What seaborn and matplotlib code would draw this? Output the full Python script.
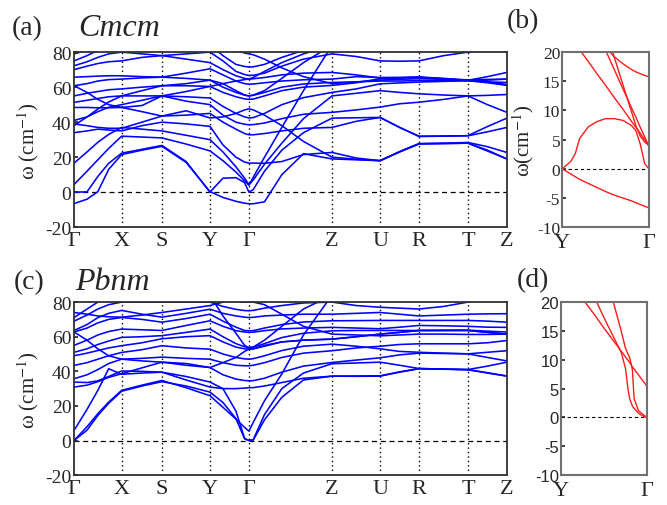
import matplotlib
matplotlib.use("Agg")
import matplotlib.pyplot as plt
import pandas as pd
import seaborn as sns

# ---------------- k-path (shared by panels a and c) ----------------
k_path = [0.00, 0.30, 0.55, 0.80, 1.10, 1.57, 2.03, 2.59, 3.14, 3.44, 3.74, 3.94, 4.04,
          4.14, 4.40, 4.80, 5.30, 5.96, 6.52, 7.07, 7.52, 7.97, 8.54, 9.10, 9.55, 10.00]
hs_pos = [0.00, 1.10, 2.03, 3.14, 4.04, 5.96, 7.07, 7.97, 9.10, 10.00]
hs_labels = ["Γ", "X", "S", "Y", "Γ", "Z", "U", "R", "T", "Z"]

# ---------------- Cmcm bands (cm^-1) ----------------
cm_a1 = [-6.5, -4.0, 0.3, 13.0, 21.5, 24.0, 26.2, 17.0, 0.3, -3.0, -5.2, -6.3, -6.6,
         -6.6, -5.5, 10.0, 22.0, 19.0, 18.5, 18.0, 23.0, 27.6, 27.8, 28.0, 24.0, 19.0]
cm_a2 = [0.0, 0.2, 9.0, 16.5, 22.3, 24.5, 26.7, 17.5, 0.0, 8.0, 8.3, 5.5, 0.0,
         1.5, 12.0, 24.0, 34.0, 42.3, 42.5, 42.7, 37.0, 31.8, 32.0, 32.3, 37.5, 42.3]
cm_a3 = [4.4, 12.0, 18.5, 25.0, 32.0, 31.5, 31.0, 27.5, 23.6, 18.0, 11.5, 6.5, 4.0,
         8.5, 20.0, 37.0, 58.0, 84.0, 84.0, 84.0, 84.0, 84.0, 84.0, 84.0, 84.0, 84.0]
cm_a4 = [16.6, 23.0, 28.5, 33.0, 37.0, 36.0, 35.0, 32.5, 30.0, 23.0, 14.5, 8.0, 4.3,
         7.0, 16.0, 28.0, 42.0, 55.0, 56.5, 58.0, 57.0, 56.2, 55.5, 55.0, 55.3, 55.8]
cm_a5 = [34.0, 35.0, 36.0, 35.5, 35.0, 38.0, 40.0, 39.0, 37.6, 27.0, 20.0, 17.2, 16.6,
         16.6, 16.5, 17.5, 21.5, 22.7, 19.5, 18.0, 23.2, 27.8, 28.0, 28.4, 26.0, 22.7]
cm_d1 = [48.4, 48.4, 48.2, 48.2, 48.4, 46.0, 43.5, 46.5, 42.4, 43.0, 45.0, 47.0, 47.6,
         47.0, 44.0, 38.0, 29.0, 20.0, 18.8, 18.0, 23.0, 27.6, 27.8, 28.0, 23.5, 19.0]
cm_u1 = [39.0, 38.0, 37.0, 36.5, 36.5, 40.0, 43.5, 44.0, 45.0, 40.0, 36.0, 33.5, 32.8,
         32.8, 33.5, 35.0, 36.5, 37.0, 40.5, 42.7, 37.0, 32.0, 32.1, 32.2, 34.5, 37.0]
cm_u2 = [41.0, 43.0, 46.0, 48.5, 50.0, 52.5, 55.0, 52.0, 50.0, 44.0, 40.0, 38.8, 38.5,
         38.6, 39.5, 42.0, 44.5, 45.6, 47.0, 48.6, 50.5, 51.4, 53.0, 55.0, 50.0, 45.6]
cm_u3 = [51.3, 52.5, 53.5, 54.5, 55.0, 55.0, 55.0, 54.5, 53.8, 49.0, 45.0, 43.0, 42.4,
         42.6, 45.0, 50.0, 54.0, 57.0, 59.0, 61.9, 62.4, 62.9, 63.3, 63.7, 62.5, 61.0]
cm_u4 = [55.0, 56.5, 57.5, 58.5, 59.0, 60.0, 60.8, 60.8, 60.4, 57.0, 54.5, 53.3, 53.0,
         53.2, 55.0, 58.0, 60.0, 61.0, 62.5, 64.8, 65.3, 65.7, 64.7, 63.7, 64.0, 64.6]
cm_u5 = [60.8, 62.0, 63.5, 64.3, 64.6, 65.3, 65.7, 65.0, 64.0, 60.0, 57.0, 55.4, 55.0,
         55.3, 57.0, 60.0, 61.8, 62.7, 63.0, 63.5, 63.5, 63.7, 63.7, 63.7, 63.0, 62.7]
cm_u6 = [65.7, 66.0, 66.3, 66.5, 66.5, 66.0, 65.7, 68.0, 70.5, 67.0, 63.5, 62.0, 61.7,
         61.8, 62.5, 63.5, 64.2, 64.6, 66.0, 65.5, 65.6, 65.8, 65.0, 64.0, 63.0, 61.5]
cm_u7 = [70.0, 72.0, 73.5, 74.5, 75.0, 77.0, 78.0, 76.0, 74.0, 70.0, 66.5, 65.0, 64.6,
         64.8, 65.5, 67.0, 68.0, 68.4, 67.0, 65.2, 65.3, 65.5, 64.8, 63.9, 66.0, 68.4]
cm_u8 = [72.2, 74.5, 77.0, 79.0, 80.0, 79.0, 78.0, 79.0, 80.0, 75.0, 69.0, 67.2, 66.7,
         66.8, 68.0, 72.0, 76.0, 79.0, 77.5, 75.0, 74.8, 75.0, 78.0, 80.0, 81.0, 82.0]
cm_u9 = [75.0, 78.0, 81.0, 83.0, 84.0, 84.0, 84.0, 84.0, 84.0, 78.0, 73.0, 71.8, 71.5,
         71.6, 73.0, 77.0, 81.0, 84.0, 84.0, 84.0, 84.0, 84.0, 84.0, 84.0, 84.0, 84.0]
cm_u10 = [79.0, 81.0, 83.0, 84.0, 84.0, 84.0, 84.0, 84.0, 84.0, 84.0, 81.0, 79.5, 79.0,
          78.5, 76.0, 71.0, 66.0, 62.0, 63.0, 64.0, 64.5, 64.8, 64.5, 64.2, 64.4, 64.6]
cm_c1 = [60.8, 57.0, 53.0, 50.0, 48.4, 49.5, 55.0, 57.5, 60.4, 62.0, 63.5, 64.3, 64.6,
         65.5, 69.0, 74.0, 79.0, 84.0, 84.0, 84.0, 84.0, 84.0, 84.0, 84.0, 84.0, 84.0]
cm_c5 = [38.0, 43.0, 47.5, 51.5, 55.0, 58.0, 60.8, 62.0, 64.0, 62.0, 58.0, 55.5, 55.0,
         55.5, 58.0, 65.0, 74.0, 84.0, 84.0, 84.0, 84.0, 84.0, 84.0, 84.0, 84.0, 84.0]
cmcm_bands = [cm_a1, cm_a2, cm_a3, cm_a4, cm_a5, cm_d1, cm_u1, cm_u2, cm_u3, cm_u4,
              cm_u5, cm_u6, cm_u7, cm_u8, cm_u9, cm_u10, cm_c1, cm_c5]

# ---------------- Pbnm bands (cm^-1) ----------------
pb_c1 = [0.0, 8.0, 15.5, 22.2, 29.0, 32.0, 34.7, 30.5, 25.9, 19.2, 12.4, 7.6, 5.4,
         10.5, 23.0, 38.5, 61.0, 84.0, 84.0, 84.0, 84.0, 84.0, 84.0, 84.0, 84.0, 84.0]
pb_c2 = [0.0, 6.0, 14.5, 21.5, 28.5, 31.5, 34.0, 31.5, 28.0, 22.0, 12.7, 1.0, 0.0,
         0.5, 15.0, 30.0, 39.0, 44.4, 44.8, 45.3, 43.5, 41.6, 41.3, 41.0, 43.0, 45.3]
pb_c3 = [5.8, 18.0, 29.0, 41.5, 38.3, 39.0, 39.5, 37.0, 33.8, 30.0, 17.0, 1.2, 0.0,
         0.3, 12.0, 25.0, 35.0, 37.2, 37.1, 37.2, 39.5, 41.5, 41.2, 40.9, 39.0, 37.2]
pb_v0 = [30.9, 32.0, 34.0, 36.5, 38.6, 42.0, 45.3, 44.5, 42.2, 38.0, 35.5, 34.7, 34.5,
         34.6, 36.0, 39.5, 43.0, 45.1, 46.5, 47.8, 49.5, 50.5, 50.3, 50.1, 48.0, 46.0]
pb_v1 = [33.8, 33.5, 34.5, 37.0, 40.2, 40.0, 39.5, 35.0, 30.9, 30.0, 30.0, 30.3, 30.5,
         30.6, 31.5, 33.5, 36.0, 37.2, 37.3, 37.4, 39.7, 41.6, 41.3, 41.0, 39.2, 37.3]
pb_v2 = [35.7, 38.0, 41.0, 44.5, 47.0, 47.5, 48.2, 47.5, 47.0, 45.0, 43.5, 43.2, 43.2,
         43.5, 45.0, 48.0, 50.5, 51.9, 53.5, 54.5, 55.5, 55.9, 55.9, 55.9, 56.5, 57.8]
pb_v3 = [43.4, 45.0, 47.0, 49.0, 50.9, 52.5, 54.8, 53.5, 52.8, 50.0, 48.0, 47.2, 47.0,
         47.3, 49.0, 52.0, 54.5, 55.7, 54.5, 53.0, 51.5, 51.0, 50.5, 50.1, 51.0, 51.9]
pb_v4 = [49.0, 50.5, 52.0, 53.5, 54.8, 56.5, 58.8, 60.0, 60.6, 57.0, 54.0, 53.0, 52.8,
         53.0, 54.5, 57.0, 58.0, 58.6, 60.0, 61.5, 62.5, 63.6, 63.6, 63.6, 62.5, 61.5]
pb_v5 = [51.0, 53.0, 55.5, 57.5, 59.6, 60.0, 60.6, 62.5, 64.4, 60.0, 56.0, 54.2, 53.8,
         54.0, 56.0, 59.5, 62.0, 63.4, 63.6, 63.6, 63.6, 63.6, 63.7, 63.8, 63.2, 62.7]
pb_v6 = [55.0, 58.0, 61.0, 63.0, 64.4, 64.0, 63.6, 66.5, 69.2, 66.0, 63.5, 62.7, 62.5,
         62.6, 63.5, 64.5, 65.0, 65.4, 65.0, 64.6, 65.5, 66.5, 66.3, 66.0, 65.5, 65.4]
pb_v7 = [62.7, 65.0, 68.0, 70.0, 71.1, 70.0, 68.4, 70.5, 73.0, 69.0, 65.5, 63.6, 63.4,
         63.5, 65.0, 67.0, 68.5, 69.2, 69.3, 69.4, 69.4, 69.4, 69.4, 69.4, 69.0, 68.4]
pb_v8 = [63.6, 67.0, 71.0, 73.5, 75.2, 73.0, 71.3, 73.5, 75.9, 73.5, 72.0, 71.3, 71.1,
         71.2, 72.0, 72.5, 73.0, 73.0, 73.5, 74.0, 73.0, 72.0, 72.5, 73.0, 73.2, 73.3]
pb_v9 = [69.0, 72.5, 76.0, 78.5, 80.0, 80.0, 80.0, 80.0, 80.0, 77.5, 75.8, 75.1, 75.0,
         75.2, 76.5, 78.0, 79.5, 80.0, 78.0, 77.0, 76.5, 76.0, 77.5, 80.0, 82.0, 84.0]
pb_v10 = [71.0, 76.0, 80.0, 83.0, 84.0, 84.0, 84.0, 84.0, 84.0, 82.0, 80.5, 80.0, 80.0,
          80.0, 78.5, 73.0, 66.0, 61.5, 61.0, 60.5, 61.0, 61.5, 61.5, 61.3, 61.3, 61.5]
pb_v11 = [74.0, 73.0, 72.0, 71.5, 71.3, 72.5, 74.0, 76.0, 78.0, 80.0, 82.0, 84.0, 84.0,
          84.0, 84.0, 84.0, 84.0, 84.0, 84.0, 84.0, 84.0, 84.0, 84.0, 84.0, 84.0, 84.0]
pb_w1 = [62.7, 58.0, 53.0, 49.0, 47.0, 46.0, 45.3, 43.5, 42.2, 45.0, 48.0, 51.5, 52.8,
         53.0, 55.0, 57.0, 58.0, 58.6, 60.0, 61.5, 62.5, 63.6, 63.6, 63.6, 62.5, 61.5]
pb_w3 = [80.0, 84.0, 84.0, 84.0, 84.0, 84.0, 84.0, 84.0, 84.0, 72.0, 62.0, 55.0, 53.5,
         54.0, 58.0, 66.0, 76.0, 84.0, 84.0, 84.0, 84.0, 84.0, 84.0, 84.0, 84.0, 84.0]
pbnm_bands = [pb_c1, pb_c2, pb_c3, pb_v0, pb_v1, pb_v2, pb_v3, pb_v4, pb_v5, pb_v6,
              pb_v7, pb_v8, pb_v9, pb_v10, pb_v11, pb_w1, pb_w3]

# ---------------- zoomed Y-Γ panels ----------------
b_frac = [0.0, 0.1, 0.15, 0.2, 0.3, 0.4, 0.5, 0.6, 0.7, 0.8, 0.85, 0.9, 0.95, 1.0]
b_neg = [0.0, -0.9, -1.35, -1.8, -2.5, -3.2, -3.9, -4.5, -5.0, -5.5, -5.8, -6.1, -6.4, -6.7]
b_hump = [0.0, 1.3, 2.6, 5.2, 7.2, 8.1, 8.6, 8.6, 8.3, 7.4, 6.5, 4.2, 0.9, 0.0]
b_lin1 = [24.5, 22.5, 21.5, 20.4, 18.4, 16.3, 14.3, 12.2, 10.2, 8.1, 7.1, 6.1, 5.0, 4.0]
b_lin2 = [37.0, 33.5, 31.8, 30.0, 26.8, 23.6, 20.3, 17.0, 13.7, 10.4, 8.8, 7.1, 5.5, 3.8]
b_lin3 = [47.0, 43.0, 40.8, 38.5, 33.5, 28.5, 23.8, 19.1, 14.4, 9.7, 7.3, 5.6, 4.6, 4.0]
b_curv = [40.0, 35.0, 32.5, 30.0, 26.0, 23.0, 20.8, 19.2, 18.0, 17.0, 16.6, 16.3, 16.0, 15.8]
cmcm_zoom = [b_neg, b_hump, b_lin1, b_lin2, b_lin3, b_curv]

d_frac = [0.2, 0.4, 0.5, 0.6, 0.7, 0.75, 0.78, 0.80, 0.83, 0.85, 0.9, 0.95, 1.0]
d_lin = [21.6, 17.6, 15.5, 13.5, 11.5, 10.5, 9.9, 9.5, 8.8, 8.4, 7.4, 6.4, 5.4]
d_c2 = [26.0, 20.5, 17.3, 14.3, 11.3, 8.5, 4.8, 3.2, 2.0, 1.6, 0.75, 0.25, 0.0]
d_c3 = [35.0, 28.0, 25.0, 20.5, 15.0, 12.0, 11.0, 10.3, 8.3, 3.3, 1.2, 0.55, 0.0]
pbnm_zoom = [d_lin, d_c2, d_c3]

zoom_ticks = [-10, -5, 0, 5, 10, 15, 20]
main_ticks = [-20, 0, 20, 40, 60, 80]

# ---------------- styling ----------------
sns.set_theme(style="white")
plt.rcParams["font.family"] = ["Liberation Serif", "DejaVu Serif"]
plt.rcParams["mathtext.fontset"] = "stix"

BLUE = "#0000ff"
RED = "#ff1a1a"


def band_frame(kvals, bands):
    rows = []
    for i, b in enumerate(bands):
        for kk, v in zip(kvals, b):
            rows.append((i, kk, v))
    return pd.DataFrame(rows, columns=["band", "k", "freq"])


def draw_main(ax, bands, ylabel):
    df = band_frame(k_path, bands)
    sns.lineplot(data=df, x="k", y="freq", units="band", estimator=None, sort=False,
                 color=BLUE, lw=1.15, ax=ax, legend=False)
    for x in hs_pos[1:-1]:
        ax.axvline(x, color="black", ls=(0, (1, 2.2)), lw=1.0, zorder=0)
    ax.axhline(0, color="black", ls=(0, (4, 3)), lw=0.9, zorder=0)
    ax.set_xlim(0, 10)
    ax.set_ylim(-20, 80)
    ax.set_xticks(hs_pos)
    ax.set_xticklabels(hs_labels, fontsize=16)
    ax.set_yticks(main_ticks)
    ax.set_yticklabels([str(t) for t in main_ticks], fontsize=14)
    ax.tick_params(axis="x", length=0, pad=3)
    ax.tick_params(axis="y", direction="in", length=3, pad=2, left=True)
    ax.set_xlabel("")
    ax.set_ylabel(ylabel, fontsize=15)
    ax.yaxis.set_label_coords(-0.076, 0.5)
    for s in ax.spines.values():
        s.set_color("#303030")
        s.set_linewidth(1.3)


def draw_zoom(ax, fracs, bands, ylabel, sans_ticks):
    df = band_frame(fracs, bands)
    sns.lineplot(data=df, x="k", y="freq", units="band", estimator=None, sort=False,
                 color=RED, lw=1.0, ax=ax, legend=False)
    ax.axhline(0, color="black", ls=(0, (3, 2.5)), lw=0.8, zorder=0)
    ax.set_xlim(0, 1)
    ax.set_ylim(-10, 20)
    ax.set_xticks([0, 1])
    ax.set_xticklabels(["Y", "Γ"], fontsize=16)
    ax.set_yticks(zoom_ticks)
    ax.set_yticklabels([str(t) for t in zoom_ticks], fontsize=12.5)
    if sans_ticks:
        for lab in ax.get_yticklabels():
            lab.set_fontfamily(["Liberation Sans", "DejaVu Sans"])
            lab.set_fontsize(12)
    ax.tick_params(axis="x", length=0, pad=4)
    ax.tick_params(axis="y", direction="in", length=3, pad=1.5, left=True)
    ax.set_xlabel("")
    ax.set_ylabel(ylabel, fontsize=15)
    ax.yaxis.set_label_coords(-0.30, 0.5)
    for s in ax.spines.values():
        s.set_color("#707070")
        s.set_linewidth(1.5)


fig = plt.figure(figsize=(6.67, 5.06), dpi=100)
ax_a = fig.add_axes([0.111, 0.549, 0.649, 0.346])
ax_b = fig.add_axes([0.843, 0.549, 0.130, 0.346])
ax_c = fig.add_axes([0.111, 0.059, 0.649, 0.342])
ax_d = fig.add_axes([0.841, 0.059, 0.129, 0.342])

draw_main(ax_a, cmcm_bands, "ω (cm$^{-1}$)")
draw_main(ax_c, pbnm_bands, "ω (cm$^{-1}$)")
draw_zoom(ax_b, b_frac, cmcm_zoom, "ω(cm$^{-1}$)", False)
draw_zoom(ax_d, d_frac, pbnm_zoom, "", True)

fig.text(0.018, 0.943, "(a)", fontsize=20, va="center", ha="left")
fig.text(0.118, 0.943, "Cmcm", fontsize=23, style="italic", va="center", ha="left")
fig.text(0.760, 0.957, "(b)", fontsize=20, va="center", ha="left")
fig.text(0.020, 0.441, "(c)", fontsize=20, va="center", ha="left")
fig.text(0.112, 0.441, "Pbnm", fontsize=23, style="italic", va="center", ha="left")
fig.text(0.775, 0.445, "(d)", fontsize=20, va="center", ha="left")

fig.savefig("out.png", dpi=100)
